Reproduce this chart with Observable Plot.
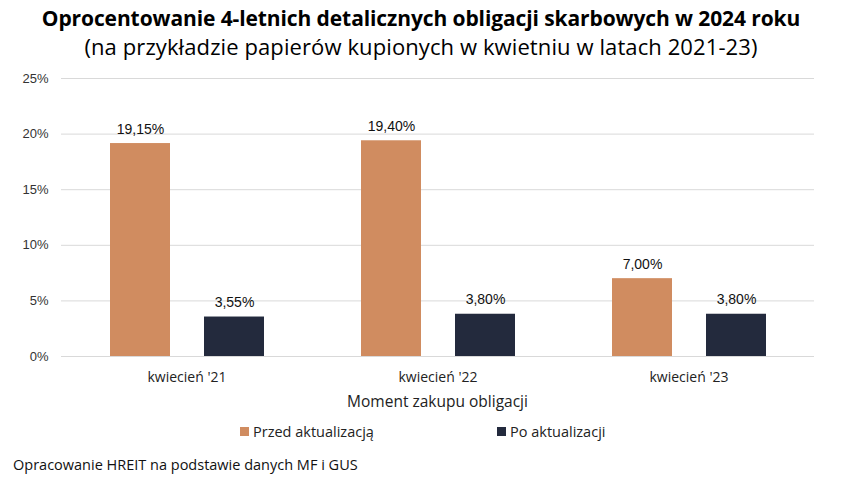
<!DOCTYPE html>
<html><head><meta charset="utf-8">
<script src="https://cdn.jsdelivr.net/npm/d3@7"></script>
<script src="https://cdn.jsdelivr.net/npm/@observablehq/plot@0.6"></script>
<style>
body{margin:0;background:#fff;width:842px;height:482px;position:relative;overflow:hidden;font-family:"Open Sans",sans-serif;color:#000}
#title{position:absolute;left:0;width:842px;top:4px;text-align:center;font-weight:700;font-size:21px;letter-spacing:-0.1px;}
#subtitle{position:absolute;left:0;width:842px;top:31px;text-align:center;font-size:22px;font-weight:400;letter-spacing:0.1px}
#chart{position:absolute;left:0;top:60px}
#xtitle{position:absolute;left:60px;width:755px;top:390px;text-align:center;font-size:15.5px;color:#222}
#legend{position:absolute;top:422px;left:0;width:842px;font-size:14.5px;color:#222}
.item{position:absolute;display:flex;align-items:center}
.sw{width:9px;height:9px;margin-right:4px}
#caption{position:absolute;left:13px;top:455px;font-size:14.5px;color:#111}
</style></head>
<body>
<div id="title">Oprocentowanie 4-letnich detalicznych obligacji skarbowych w 2024 roku</div>
<div id="subtitle">(na przykładzie papierów kupionych w kwietniu w latach 2021-23)</div>
<div id="chart"></div>
<div id="xtitle">Moment zakupu obligacji</div>
<div id="legend"></div>
<div id="caption">Opracowanie HREIT na podstawie danych MF i GUS</div>
<script>
const periods = ["kwiecień '21", "kwiecień '22", "kwiecień '23"];
const series = ["Przed aktualizacją", "Po aktualizacji"];
const before = [19.15, 19.40, 7.00];
const after = [3.55, 3.80, 3.80];
const colors = ["#D08C60", "#232A3D"];
const yTicks = [0, 5, 10, 15, 20, 25];

const data = [];
periods.forEach((p, i) => {
  data.push({period: p, series: series[0], value: before[i]});
  data.push({period: p, series: series[1], value: after[i]});
});
const fmt = v => v.toFixed(2).replace(".", ",") + "%";

const chart = Plot.plot({
  width: 842,
  height: 350,
  marginLeft: 60,
  marginRight: 27,
  marginTop: 18,
  marginBottom: 54,
  style: {fontFamily: "'Liberation Sans', Arial, sans-serif", fontSize: "13px", color: "#333"},
  fx: {domain: periods, padding: 0, label: null, tickSize: 0, tickPadding: 16, axis: "bottom"},
  x: {domain: series, axis: null, padding: 0.365, paddingOuter: 0.51},
  y: {domain: [0, 25], ticks: yTicks, tickFormat: d => d + "%", tickSize: 0, tickPadding: 13, label: null},
  color: {domain: series, range: colors},
  marks: [
    Plot.ruleY(yTicks, {stroke: "#d9d9d9", strokeWidth: 1}),
    Plot.barY(data, {fx: "period", x: "series", y: "value", fill: "series"}),
    Plot.text(data, {fx: "period", x: "series", y: "value", text: d => fmt(d.value), lineAnchor: "bottom", dy: -10, fontSize: 14, fill: "#111"})
  ]
});
document.getElementById("chart").appendChild(chart);
d3.select(chart).selectAll("[aria-label^='fx-axis'], [aria-label^='fx-axis'] text")
  .style("font-family", "'Open Sans', sans-serif").style("font-size", "14px").style("fill", "#222");

const legend = document.getElementById("legend");
const legendX = [240, 497];
series.forEach((s, i) => {
  const it = document.createElement("div");
  it.className = "item";
  it.style.left = legendX[i] + "px";
  it.innerHTML = `<div class="sw" style="background:${colors[i]}"></div><span>${s}</span>`;
  legend.appendChild(it);
});
</script>
</body></html>
